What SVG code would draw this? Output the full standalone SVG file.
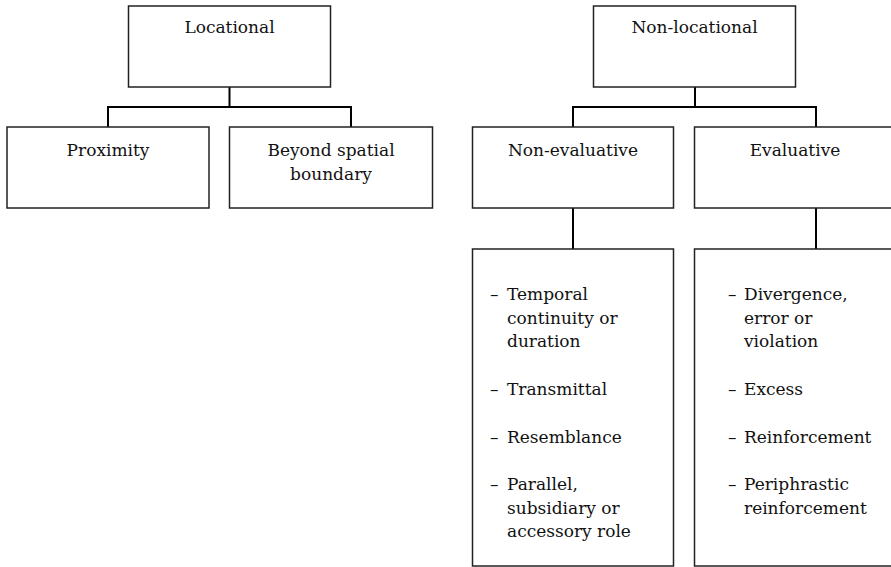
<svg xmlns="http://www.w3.org/2000/svg" width="891" height="567" viewBox="0 0 891 567">
<style>
.box{fill:#fff;stroke:#222;stroke-width:1.5}
.conn{fill:none;stroke:#000;stroke-width:2}
.t{font-family:'DejaVu Serif',serif;font-size:17px;fill:#111}
.c{text-anchor:middle}
</style>
<rect width="891" height="567" fill="#fff"/>
<g id="connectors">
<path class="conn" d="M229.5 87V107M108 127V107H351V127"/>
<path class="conn" d="M695 87V107M573 127V107H816V127"/>
<path class="conn" d="M573 208V249"/>
<path class="conn" d="M816 208V249"/>
</g>
<g class="t">
<g id="locational"><rect class="box" x="128.5" y="6" width="202" height="81"/><text class="c" x="229.5" y="33">Locational</text></g>
<g id="non-locational"><rect class="box" x="593.5" y="6" width="202" height="81"/><text class="c" x="694.5" y="33">Non-locational</text></g>
<g id="proximity"><rect class="box" x="7" y="127" width="202" height="81"/><text class="c" x="108" y="156">Proximity</text></g>
<g id="beyond"><rect class="box" x="229.5" y="127" width="203" height="81"/><text class="c" x="331" y="156">Beyond spatial</text><text class="c" x="331" y="180">boundary</text></g>
<g id="non-evaluative"><rect class="box" x="472.5" y="127" width="201" height="81"/><text class="c" x="573" y="156">Non-evaluative</text></g>
<g id="evaluative"><rect class="box" x="694.5" y="127" width="210" height="81"/><text class="c" x="795" y="156">Evaluative</text></g>
<g id="non-evaluative-list"><rect class="box" x="472.5" y="249" width="201" height="317"/>
<text x="490" y="300">–</text><text x="507" y="300">Temporal</text>
<text x="507" y="324">continuity or</text>
<text x="507" y="347">duration</text>
<text x="490" y="395">–</text><text x="507" y="395">Transmittal</text>
<text x="490" y="443">–</text><text x="507" y="443">Resemblance</text>
<text x="490" y="490">–</text><text x="507" y="490">Parallel,</text>
<text x="507" y="514">subsidiary or</text>
<text x="507" y="537">accessory role</text>
</g>
<g id="evaluative-list"><rect class="box" x="694.5" y="249" width="210" height="317"/>
<text x="728" y="300">–</text><text x="744" y="300">Divergence,</text>
<text x="744" y="324">error or</text>
<text x="744" y="347">violation</text>
<text x="728" y="395">–</text><text x="744" y="395">Excess</text>
<text x="728" y="443">–</text><text x="744" y="443">Reinforcement</text>
<text x="728" y="490">–</text><text x="744" y="490">Periphrastic</text>
<text x="744" y="514">reinforcement</text>
</g>
</g>
</svg>
